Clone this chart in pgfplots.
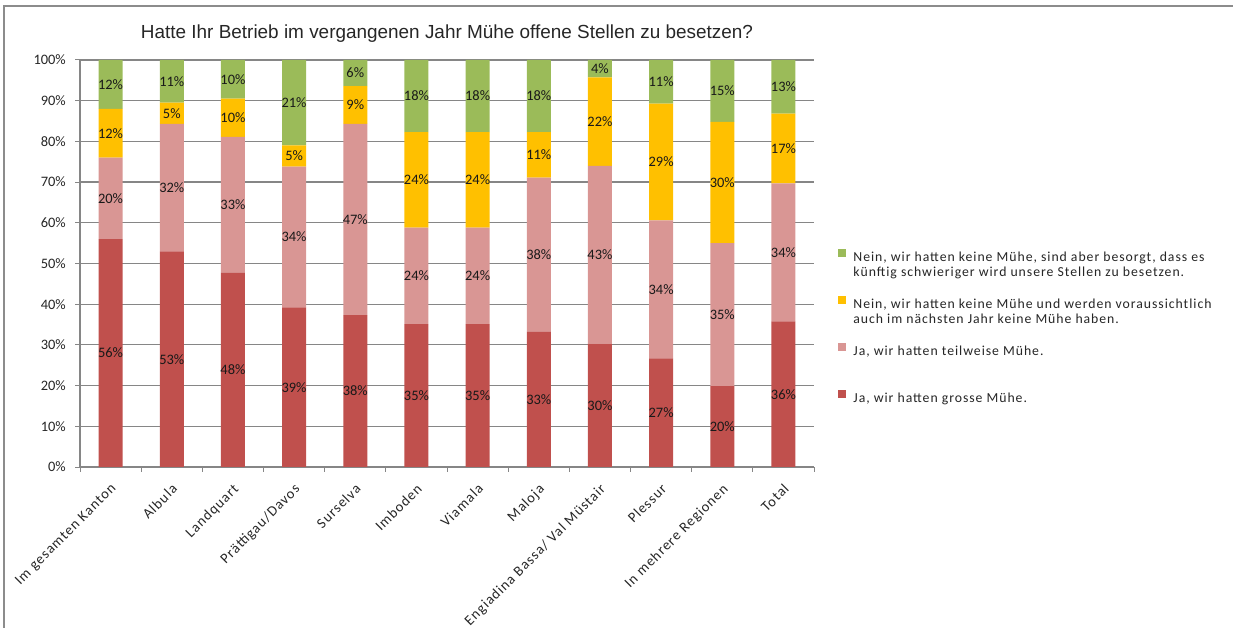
\documentclass[border=0pt]{standalone}
\usepackage{fontspec}
\setmainfont{Carlito}
\newfontfamily\titlefont{Liberation Sans}
\newfontfamily\legfont[LetterSpace=7]{Carlito}
\usepackage{pgfplots}
\usepackage{pgfplotstable}
\pgfplotsset{compat=1.18}

\definecolor{cRed}{HTML}{C0504D}
\definecolor{cPink}{HTML}{D99694}
\definecolor{cYel}{HTML}{FFC000}
\definecolor{cGreen}{HTML}{9BBB59}
\definecolor{cGrid}{HTML}{868686}

% r = grosse Mühe, p = teilweise, y = keine Mühe, g = besorgt; l* = printed labels
\pgfplotstableread{
x r    p    y    g    lr lp ly lg
0  56   20   12   12   56 20 12 12
1  53   31.3 5.2  10.5 53 32 5  11
2  47.7 33.4 9.4  9.5  48 33 10 10
3  39.2 34.6 5.2  21   39 34 5  21
4  37.3 47   9.3  6.4  38 47 9  6
5  35.1 23.7 23.5 17.7 35 24 24 18
6  35.1 23.7 23.5 17.7 35 24 24 18
7  33.2 37.9 11.2 17.7 33 38 11 18
8  30.3 43.7 21.7 4.3  30 43 22 4
9  26.7 33.9 28.7 10.7 27 34 29 11
10 19.9 35.1 29.8 15.2 20 35 30 15
11 35.8 33.9 17.1 13.2 36 34 17 13
}\data

% labels already sit in the middle of each segment
\pgfplotsset{
  seglabel/.style={
    point meta=explicit symbolic,
    nodes near coords={\pgfplotspointmeta\%},
    every node near coord/.append style={anchor=center},
  },
}
\newcommand{\twoline}[2]{\begin{tabular}[t]{@{}l@{}}#1\\#2\end{tabular}}

\begin{document}
\begin{tikzpicture}
\path[use as bounding box] (0,0) rectangle (1236bp,628bp);
\draw[black!45, line width=1.2bp] (4bp,0) -- (4bp,622bp) -- (1233bp,622bp);
\begin{axis}[
  at={(80bp,161bp)}, anchor=south west,
  scale only axis, width=734bp, height=407bp,
  ybar stacked, bar width=24bp,
  xmin=-0.5, xmax=11.5, ymin=0, ymax=100,
  xtick={0,...,11},
  xticklabels={Im gesamten Kanton, Albula, Landquart, Prättigau/Davos, Surselva,
    Imboden, Viamala, Maloja, Engiadina Bassa/ Val Müstair, Plessur,
    In mehrere Regionen, Total},
  major x tick style={draw=none},
  minor xtick={-0.5,0.5,...,11.5},
  minor tick length=5bp,
  ytick={0,10,...,100},
  yticklabel={\pgfmathprintnumber{\tick}\%},
  major tick length=5bp,
  tick align=outside,
  axis lines*=left,
  axis line style={cGrid, line width=1.2bp},
  tick style={cGrid, line width=1bp},
  ymajorgrids, grid style={cGrid, line width=1.2bp},
  /pgf/number format/assume math mode=true,
  ticklabel style={font=\fontsize{14.5}{16}\selectfont, text=black!85},
  xticklabel style={rotate=45, anchor=north east, inner sep=1bp,
    xshift=-7bp, yshift=-6bp, font=\legfont\fontsize{14.5}{16}\selectfont},
  yticklabel style={inner sep=2bp, xshift=-7bp},
  title={Hatte Ihr Betrieb im vergangenen Jahr Mühe offene Stellen zu besetzen?},
  title style={at={(0.5,1)}, anchor=center, yshift=20bp,
    font=\titlefont\fontsize{19}{21}\selectfont, text=black!85},
  nodes near coords style={font=\fontsize{14.5}{16}\selectfont, text=black!90},
  reverse legend,
  legend style={at={(1.033,0.536)}, anchor=north west, draw=none,
    inner sep=0pt, row sep=33bp, column sep=7bp,
    font=\legfont\fontsize{13.8}{15}\selectfont, text=black!85,
    nodes={inner sep=0pt}},
  legend cell align=left,
  legend image code/.code={\fill[#1] (0bp,0bp) rectangle (8bp,8bp);},
]
\addplot[fill=cRed, draw=none, seglabel] table[x=x, y=r, meta=lr]{\data};
\addlegendentry{\twoline{Ja, wir hatten grosse Mühe.}{\mbox{}}}
\addplot[fill=cPink, draw=none, seglabel] table[x=x, y=p, meta=lp]{\data};
\addlegendentry{\twoline{Ja, wir hatten teilweise Mühe.}{\mbox{}}}
\addplot[fill=cYel, draw=none, seglabel] table[x=x, y=y, meta=ly]{\data};
\addlegendentry{\twoline{Nein, wir hatten keine Mühe und werden voraussichtlich}{auch im nächsten Jahr keine Mühe haben.}}
\addplot[fill=cGreen, draw=none, seglabel] table[x=x, y=g, meta=lg]{\data};
\addlegendentry{\twoline{Nein, wir hatten keine Mühe, sind aber besorgt, dass es}{künftig schwieriger wird unsere Stellen zu besetzen.}}
\end{axis}
\end{tikzpicture}
\end{document}
